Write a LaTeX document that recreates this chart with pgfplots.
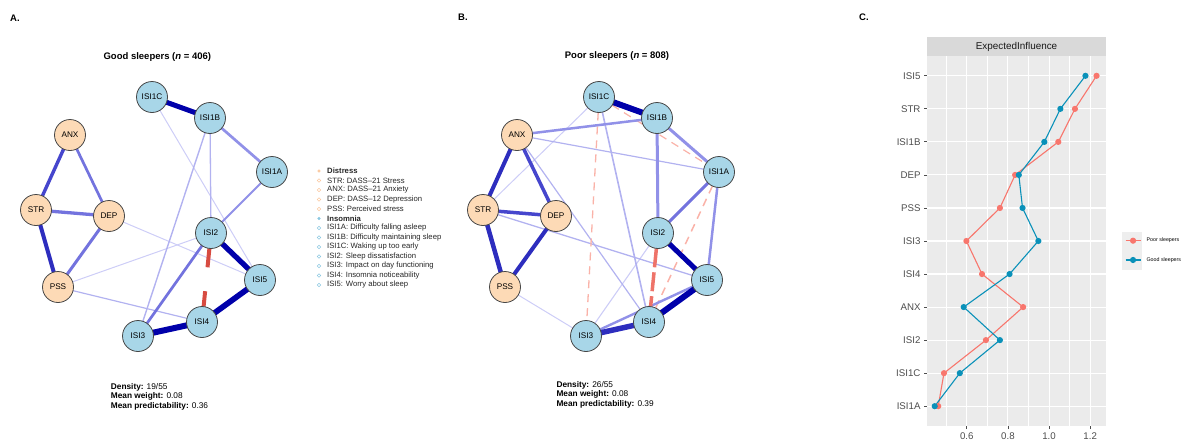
\documentclass[border=0pt]{standalone}
\usepackage{fontspec}
\setmainfont{Liberation Sans}
\usepackage{pgfplots}
\pgfplotsset{compat=1.18}
\definecolor{eA}{RGB}{0,0,170}
\definecolor{eB}{RGB}{45,45,190}
\definecolor{eC}{RGB}{70,70,205}
\definecolor{eD}{RGB}{115,115,222}
\definecolor{eE}{RGB}{145,145,232}
\definecolor{eF}{RGB}{178,178,240}
\definecolor{eG}{RGB}{205,205,247}
\definecolor{negA}{RGB}{215,75,65}
\definecolor{negB}{RGB}{238,115,105}
\definecolor{negC}{RGB}{250,178,168}
\definecolor{distfill}{RGB}{253,218,182}
\definecolor{insfill}{RGB}{168,214,232}
\definecolor{nodeborder}{RGB}{70,70,70}
\definecolor{legdist}{RGB}{250,200,160}
\definecolor{legins}{RGB}{140,200,225}
\definecolor{ggbg}{RGB}{235,235,235}
\definecolor{ggstrip}{RGB}{217,217,217}
\definecolor{ggtext}{RGB}{77,77,77}
\definecolor{poorc}{RGB}{248,118,109}
\definecolor{goodc}{RGB}{10,145,185}
\definecolor{keybg}{RGB}{238,238,238}
\pgfplotsset{edge/.style={forget plot, line cap=round, no markers}}
\begin{document}
\begin{tikzpicture}[x=1pt,y=1pt]
\useasboundingbox (0,0) rectangle (1182,440);
\begin{axis}[at={(0pt,0pt)}, anchor=south west, width=1182pt, height=440pt, scale only axis,
  xmin=0, xmax=1182, ymin=0, ymax=440, y dir=reverse, hide axis, clip=false]
% ---------- panel A edges ----------
\addplot[edge, eG, line width=1pt] coordinates {(152,97) (260,280)};
\addplot[edge, eG, line width=1pt] coordinates {(109,216) (260,280)};
\addplot[edge, eG, line width=1pt] coordinates {(58,287) (211,233)};
\addplot[edge, eF, line width=1.2pt] coordinates {(58,287) (202,322)};
\addplot[edge, eF, line width=1.3pt] coordinates {(210,118) (211,233)};
\addplot[edge, eF, line width=1.4pt] coordinates {(210,118) (138,336)};
\addplot[edge, eE, line width=2pt] coordinates {(272,172) (211,233)};
\addplot[edge, eD, line width=2.7pt] coordinates {(211,233) (138,336)};
\addplot[edge, eD, line width=2.7pt] coordinates {(70,135) (109,216)};
\addplot[edge, eE, line width=2.7pt] coordinates {(210,118) (272,172)};
\addplot[edge, eD, line width=3.3pt] coordinates {(36,210) (109,216)};
\addplot[edge, eD, line width=3pt] coordinates {(109,216) (58,287)};
\addplot[edge, eC, line width=3.4pt] coordinates {(70,135) (36,210)};
\addplot[edge, eB, line width=4pt] coordinates {(36,210) (58,287)};
\addplot[edge, negA, line width=4pt, line cap=butt, dash pattern=on 19pt off 24pt] coordinates {(209.4,248.4) (203.6,306.6)};
\addplot[edge, eA, line width=5.3pt] coordinates {(211,233) (260,280)};
\addplot[edge, eA, line width=5pt] coordinates {(152,97) (210,118)};
\addplot[edge, eA, line width=5.7pt] coordinates {(202,322) (260,280)};
\addplot[edge, eA, line width=6pt] coordinates {(138,336) (202,322)};
% ---------- panel B edges ----------
\addplot[edge, eG, line width=1pt] coordinates {(505,287) (586,336)};
\addplot[edge, eG, line width=1pt] coordinates {(483,210) (599,97)};
\addplot[edge, eG, line width=1.1pt] coordinates {(658,233) (586,336)};
\addplot[edge, eF, line width=1.2pt] coordinates {(517,135) (649,322)};
\addplot[edge, eF, line width=1.2pt] coordinates {(517,135) (719,172)};
\addplot[edge, eF, line width=1.3pt] coordinates {(483,210) (707,280)};
\addplot[edge, eF, line width=1.6pt] coordinates {(599,97) (649,322)};
\addplot[edge, negC, line width=1.3pt, line cap=butt, dash pattern=on 8pt off 6pt] coordinates {(598.2,112.5) (586.8,320.5)};
\addplot[edge, negC, line width=1.2pt, line cap=butt, dash pattern=on 8pt off 6pt] coordinates {(612.1,105.2) (705.9,163.8)};
\addplot[edge, negC, line width=1.5pt, line cap=butt, dash pattern=on 8pt off 6pt] coordinates {(712.4,186.1) (655.6,308)};
\addplot[edge, eE, line width=2.4pt] coordinates {(586,336) (707,280)};
\addplot[edge, eE, line width=2.5pt] coordinates {(517,135) (657,118)};
\addplot[edge, eE, line width=2.5pt] coordinates {(719,172) (707,280)};
\addplot[edge, eE, line width=3pt] coordinates {(657,118) (658,233)};
\addplot[edge, eE, line width=3pt] coordinates {(657,118) (719,172)};
\addplot[edge, eD, line width=3pt] coordinates {(719,172) (658,233)};
\addplot[edge, eC, line width=3.5pt] coordinates {(517,135) (556,216)};
\addplot[edge, eC, line width=3.5pt] coordinates {(483,210) (556,216)};
\addplot[edge, eB, line width=4pt] coordinates {(517,135) (483,210)};
\addplot[edge, eB, line width=4pt] coordinates {(556,216) (505,287)};
\addplot[edge, eB, line width=4.5pt] coordinates {(483,210) (505,287)};
\addplot[edge, negB, line width=3.5pt, line cap=butt, dash pattern=on 19pt off 5pt] coordinates {(656.4,248.4) (650.6,306.6)};
\addplot[edge, eB, line width=5.5pt] coordinates {(586,336) (649,322)};
\addplot[edge, eA, line width=5pt] coordinates {(658,233) (707,280)};
\addplot[edge, eA, line width=6pt] coordinates {(599,97) (657,118)};
\addplot[edge, eA, line width=6pt] coordinates {(649,322) (707,280)};
% ---------- nodes ----------
\addplot[forget plot, nodeborder, only marks, mark=*, mark size=15.5pt,
  mark options={fill=distfill, draw=nodeborder, line width=0.8pt},
  nodes near coords, point meta=explicit symbolic,
  nodes near coords style={anchor=center, font=\fontsize{8.2}{9}\selectfont, text=black}]
  table[meta=lab] {
x y lab
70 135 ANX
36 210 STR
109 216 DEP
58 287 PSS
517 135 ANX
483 210 STR
556 216 DEP
505 287 PSS
};
\addplot[forget plot, nodeborder, only marks, mark=*, mark size=15.5pt,
  mark options={fill=insfill, draw=nodeborder, line width=0.8pt},
  nodes near coords, point meta=explicit symbolic,
  nodes near coords style={anchor=center, font=\fontsize{8.2}{9}\selectfont, text=black}]
  table[meta=lab] {
x y lab
152 97 ISI1C
210 118 ISI1B
272 172 ISI1A
211 233 ISI2
260 280 ISI5
202 322 ISI4
138 336 ISI3
599 97 ISI1C
657 118 ISI1B
719 172 ISI1A
658 233 ISI2
707 280 ISI5
649 322 ISI4
586 336 ISI3
};
% ---------- legend of networks ----------
\addplot[forget plot, only marks, mark=*, mark size=1.3pt, legdist] coordinates {(319,171)};
\addplot[forget plot, only marks, mark=o, mark size=1.7pt, legdist, mark options={line width=0.6pt}] coordinates {(319,180.5) (319,190) (319,199.5) (319,209)};
\addplot[forget plot, only marks, mark=*, mark size=1.3pt, legins] coordinates {(319,218.5)};
\addplot[forget plot, only marks, mark=o, mark size=1.7pt, legins, mark options={line width=0.6pt}] coordinates {(319,228) (319,237.5) (319,247) (319,256.5) (319,266) (319,275.5) (319,285)};
\begin{scope}[every node/.style={anchor=west, inner sep=0pt, font=\fontsize{7.7}{9}\selectfont, text=black!85}]
\node at (axis cs:327,171) {\textbf{Distress}};
\node at (axis cs:327,180.5) {STR: DASS–21 Stress};
\node at (axis cs:327,190) {ANX: DASS–21 Anxiety};
\node at (axis cs:327,199.5) {DEP: DASS–12 Depression};
\node at (axis cs:327,209) {PSS: Perceived stress};
\node at (axis cs:327,218.5) {\textbf{Insomnia}};
\node at (axis cs:327,228) {ISI1A: Difficulty falling asleep};
\node at (axis cs:327,237.5) {ISI1B: Difficulty maintaining sleep};
\node at (axis cs:327,247) {ISI1C: Waking up too early};
\node at (axis cs:327,256.5) {ISI2: Sleep dissatisfaction};
\node at (axis cs:327,266) {ISI3: Impact on day functioning};
\node at (axis cs:327,275.5) {ISI4: Insomnia noticeability};
\node at (axis cs:327,285) {ISI5: Worry about sleep};
\end{scope}
% ---------- titles and stats ----------
\node[font=\fontsize{9.5}{11}\selectfont\bfseries] at (axis cs:157.3,56.7) {Good sleepers (\textit{n} = 406)};
\node[font=\fontsize{9.5}{11}\selectfont\bfseries] at (axis cs:617,55.7) {Poor sleepers (\textit{n} = 808)};
\begin{scope}[every node/.style={anchor=west, inner sep=0pt, font=\fontsize{8.3}{9.5}\selectfont}]
\node at (axis cs:110.7,387) {\textbf{Density:} 19/55};
\node at (axis cs:110.7,396.5) {\textbf{Mean weight:} 0.08};
\node at (axis cs:110.7,406) {\textbf{Mean predictability:} 0.36};
\node at (axis cs:556.3,385) {\textbf{Density:} 26/55};
\node at (axis cs:556.3,394.7) {\textbf{Mean weight:} 0.08};
\node at (axis cs:556.3,404.4) {\textbf{Mean predictability:} 0.39};
\end{scope}
\begin{scope}[every node/.style={anchor=west, inner sep=0pt, font=\fontsize{9.5}{11}\selectfont\bfseries}]
\node at (axis cs:10,18) {A.};
\node at (axis cs:458,17) {B.};
\node at (axis cs:859,17) {C.};
\end{scope}
\end{axis}
% ---------- panel C ----------
\fill[keybg] (1122,170) rectangle (1142,208);
\fill[ggstrip] (927,384) rectangle (1106,403);
\node[font=\fontsize{9.9}{11}\selectfont, text=black!90] at (1016.5,393.5) {ExpectedInfluence};
\begin{axis}[at={(927pt,14pt)}, anchor=south west, width=179pt, height=370pt, scale only axis,
  xmin=0.4065, xmax=1.277, ymin=0.4, ymax=11.6,
  axis background/.style={fill=ggbg},
  axis line style={draw=none},
  xtick={0.6,0.8,1.0,1.2}, xticklabels={0.6,0.8,1.0,1.2},
  minor xtick={0.5,0.7,0.9,1.1},
  ytick={1,2,3,4,5,6,7,8,9,10,11},
  yticklabels={ISI1A,ISI1C,ISI2,ANX,ISI4,ISI3,PSS,DEP,ISI1B,STR,ISI5},
  grid=both,
  major grid style={white, line width=1.1pt},
  minor grid style={white, line width=0.55pt},
  tick align=outside, tick pos=left, major tick length=3pt, minor tick length=0pt,
  major tick style={ggtext, line width=0.8pt},
  ticklabel style={font=\fontsize{9.7}{11}\selectfont, text=ggtext},
  clip=false,
  legend style={at={(1.1061,0.5076)}, anchor=north west, draw=none, fill=none, inner sep=0pt, outer sep=0pt,
    font=\fontsize{5.3}{6}\selectfont, row sep=14.3pt,
    nodes={inner sep=0pt, text height=3.8pt, text depth=1.2pt},
    /tikz/every odd column/.append style={column sep=5.5pt}},
  legend image code/.code={\draw[mark repeat=2, mark phase=2, #1] plot coordinates {(0pt,0pt) (7.5pt,0pt) (15pt,0pt)};},
  legend cell align=left]
\addplot[poorc, line width=1.1pt, mark=*, mark size=2.5pt, mark options={fill=poorc, draw=poorc}] coordinates {
(1.231,11) (1.126,10) (1.045,9) (0.835,8) (0.761,7) (0.598,6) (0.674,5) (0.874,4) (0.693,3) (0.489,2) (0.461,1)};
\addlegendentry{Poor sleepers}
\addplot[goodc, line width=1.1pt, mark=*, mark size=2.5pt, mark options={fill=goodc, draw=goodc}] coordinates {
(1.177,11) (1.055,10) (0.977,9) (0.853,8) (0.871,7) (0.948,6) (0.808,5) (0.585,4) (0.761,3) (0.566,2) (0.444,1)};
\addlegendentry{Good sleepers}
\end{axis}
\end{tikzpicture}
\end{document}
